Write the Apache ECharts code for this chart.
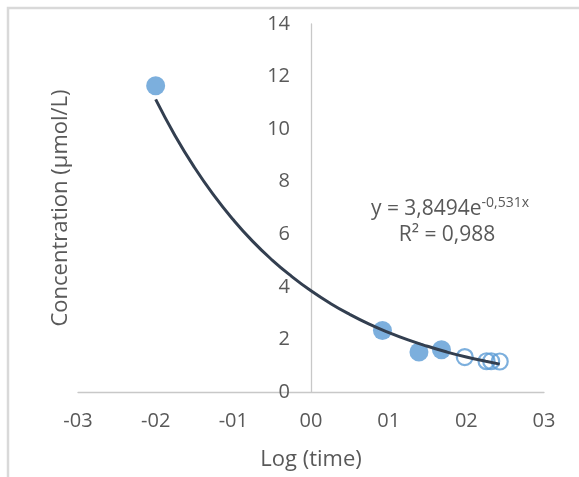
<!DOCTYPE html>
<html>
<head>
<meta charset="utf-8">
<script src="https://cdn.jsdelivr.net/npm/echarts@6/dist/echarts.min.js"></script>
<style>
html,body{margin:0;padding:0;background:#fff;}
#chart{width:579px;height:477px;}
</style>
</head>
<body>
<div id="chart"></div>
<script>
// Observed data points (filled markers)
const filledX = [-2.0, 0.92, 1.39, 1.68];
const filledY = [11.65, 2.34, 1.52, 1.61];
// Hollow markers
const hollowX = [1.98, 2.26, 2.32, 2.43];
const hollowY = [1.33, 1.17, 1.17, 1.16];
// Trendline
const trendX = [-2, -1.75, -1.5, -1.25, -1, -0.75, -0.5, -0.25, 0, 0.25, 0.5, 0.75, 1, 1.25, 1.5, 1.75, 2, 2.25, 2.43];
const trendY = [11.13, 9.75, 8.54, 7.48, 6.55, 5.73, 5.02, 4.40, 3.85, 3.37, 2.95, 2.58, 2.26, 1.98, 1.74, 1.52, 1.33, 1.17, 1.06];
// Tick labels
const xTickLabels = ['-03', '-02', '-01', '00', '01', '02', '03'];
const yTickLabels = ['0', '2', '4', '6', '8', '10', '12', '14'];
const xTitle = 'Log (time)';
const yTitle = 'Concentration (µmol/L)';
const eqText = 'y = 3,8494e';
const eqExp = '-0,531x';
const r2Text = 'R² = 0,988';

const FONT = 'Open Sans';
const TXT = '#595959';
const AXIS = '#C8C8C8';
const BLUE = '#5B9BD5';
const GRID_LEFT = 78;

const zip = (a, b) => a.map((v, i) => [v, b[i]]);

const chart = echarts.init(document.getElementById('chart'), null, {renderer: 'canvas'});
const option = {
  animation: false,
  backgroundColor: '#fff',
  grid: {left: GRID_LEFT, right: 35, top: 24, bottom: 85, containLabel: false, outerBoundsMode: 'none'},
  xAxis: {
    type: 'value', min: -3, max: 3, interval: 1,
    axisLine: {show: true, onZero: true, lineStyle: {color: AXIS, width: 1.3}},
    axisTick: {show: false},
    splitLine: {show: false},
    axisLabel: {
      color: TXT, fontFamily: FONT, fontSize: 20, margin: 19,
      formatter: v => xTickLabels[Math.round(v) + 3]
    },
    name: xTitle, nameLocation: 'middle', nameGap: 57,
    nameTextStyle: {color: TXT, fontFamily: FONT, fontSize: 22}
  },
  yAxis: {
    type: 'value', min: 0, max: 14, interval: 2,
    position: 'left', offset: 0,
    axisLine: {show: true, onZero: false, lineStyle: {color: AXIS, width: 1.3}},
    axisTick: {show: false},
    splitLine: {show: false},
    axisLabel: {
      color: TXT, fontFamily: FONT, fontSize: 20, margin: 21,
      formatter: v => yTickLabels[Math.round(v / 2)]
    },
    name: yTitle, nameLocation: 'middle', nameGap: 239, nameRotate: 90,
    nameTextStyle: {color: TXT, fontFamily: FONT, fontSize: 22}
  },
  series: [
    {
      type: 'scatter', name: 'filled', z: 2,
      data: zip(filledX, filledY),
      symbol: 'circle', symbolSize: 19,
      itemStyle: {color: BLUE}
    },
    {
      type: 'scatter', name: 'hollow', z: 2,
      data: zip(hollowX, hollowY),
      symbol: 'circle', symbolSize: 16,
      itemStyle: {color: 'rgba(255,255,255,0)', borderColor: BLUE, borderWidth: 2.2}
    },
    {
      type: 'line', name: 'trend', z: 5,
      data: zip(trendX, trendY),
      smooth: true, showSymbol: false, symbol: 'none',
      lineStyle: {color: '#333F50', width: 3}
    }
  ],
  graphic: [
    {
      type: 'rect', silent: true, z: -1,
      shape: {x: 8, y: 8, width: 700, height: 600},
      style: {fill: 'none', stroke: '#D9D9D9', lineWidth: 2.5}
    },
    {
      type: 'text', x: 450, y: 209, silent: true,
      style: {
        text: '{a|' + eqText + '}{b|' + eqExp + '}',
        align: 'center', verticalAlign: 'middle',
        rich: {
          a: {fontFamily: FONT, fontSize: 21, fill: TXT, color: TXT},
          b: {fontFamily: FONT, fontSize: 14, fill: TXT, color: TXT, verticalAlign: 'top', padding: [0, 0, 12, 0]}
        }
      }
    },
    {
      type: 'text', x: 447, y: 235, silent: true,
      style: {text: r2Text, fontFamily: FONT, fontSize: 21, fill: TXT, align: 'center', verticalAlign: 'middle'}
    }
  ]
};
chart.setOption(option);
// Place the y axis at x = 0 using the library's own x scale
const zeroPx = chart.convertToPixel({xAxisIndex: 0}, 0);
chart.setOption({yAxis: {offset: -(zeroPx - GRID_LEFT)}});
</script>
</body>
</html>
